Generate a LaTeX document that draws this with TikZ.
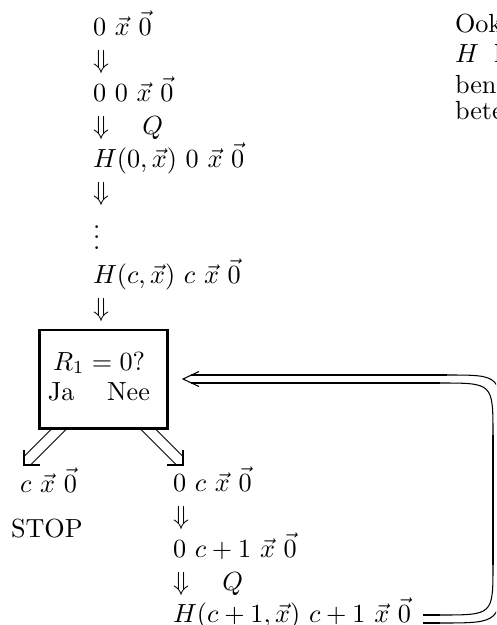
\documentclass[tikz,border=0pt]{standalone}
\begin{document}
\begin{tikzpicture}[x=0.3817pt,y=-0.3817pt,
  txt/.style={anchor=base west, inner sep=0pt, outer sep=0pt},
  thickline/.style={line width=1.1pt, line cap=butt},
  thinline/.style={line width=0.4pt},
  boxstyle/.style={draw, line width=1.1pt, inner sep=0pt, minimum width=48.86pt, minimum height=37.6pt}]
\useasboundingbox (0,0) rectangle (496,625);
\clip (0,0) rectangle (496,625);
% left column
\node[txt] (t1) at (93,35) {$0\ \vec{x}\ \vec{0}$};
\node[txt] (a1) at (93,68) {$\Downarrow$};
\node[txt] (t2) at (93,101) {$0\ 0\ \vec{x}\ \vec{0}$};
\node[txt] (a2) at (93,134) {$\Downarrow\quad Q$};
\node[txt] (t3) at (93,167) {$H(0,\vec{x})\ 0\ \vec{x}\ \vec{0}$};
\node[txt] (a3) at (93,200) {$\Downarrow$};
\node[txt] (dots) at (93,249) {$\vdots$};
\node[txt] (t4) at (93,283) {$H(c,\vec{x})\ c\ \vec{x}\ \vec{0}$};
\node[txt] (a4) at (93,316) {$\Downarrow$};
% test box
\node[boxstyle] (box) at (103.5,379.25) {};
\node[txt] (q) at (53,370) {$R_1=0?$};
\node[txt] (ja) at (48,400) {Ja};
\node[txt] (nee) at (107,400) {Nee};
% results
\node[txt] (stopval) at (20,492) {$c\ \vec{x}\ \vec{0}$};
\node[txt] (stop) at (11,537) {STOP};
\node[txt] (r1) at (173,491) {$0\ c\ \vec{x}\ \vec{0}$};
\node[txt] (r2) at (173,524) {$\Downarrow$};
\node[txt] (r3) at (173,557) {$0\ c+1\ \vec{x}\ \vec{0}$};
\node[txt] (r4) at (173,590) {$\Downarrow\quad Q$};
\node[txt] (r5) at (173,622) {$H(c+1,\vec{x})\ c+1\ \vec{x}\ \vec{0}$};
% clipped paragraph at right
\node[txt] (n1) at (455,32) {Ook};
\node[txt] (n2) at (455,63) {$H$\hspace{5.8pt}l};
\node[txt] (n3) at (455,93) {ben};
\node[txt] (n4) at (455,119) {bete};
% left diagonal double arrow (Ja)
\coordinate (jaA) at (52,428.5);
\coordinate (jaB) at (67,428.5);
\coordinate (jaTip) at (24,465);
\draw[thinline] (jaA) -- (25,455.5);
\draw[thinline] (jaB) -- (30,465.5);
\draw[thickline, line join=miter] (24,450) -- (jaTip) -- (40,465);
% right diagonal double arrow (Nee)
\coordinate (neeA) at (140,428.5);
\coordinate (neeB) at (155,428.5);
\coordinate (neeTip) at (183,465);
\draw[thinline] (neeA) -- (177,465.5);
\draw[thinline] (neeB) -- (182,455.5);
\draw[thickline, line join=miter] (167,465) -- (neeTip) -- (183,450);
% return double arrow
\coordinate (retTip) at (183,379);
\draw[thinline] (199,371.5) -- (retTip) -- (199,386.5);
% outer line
\draw[thickline] (423,623) -- (440,623);
\draw[thinline] (440,623) .. controls (501,623) .. (501,565);
\draw[thickline] (501,565) -- (501,430);
\draw[thinline] (501,430) .. controls (501,375) .. (447,375);
\draw[thickline] (447,375) -- (191,375);
% inner line
\draw[thickline] (423,615) -- (440,615);
\draw[thinline] (440,615) .. controls (493,615) .. (493,565);
\draw[thickline] (493,565) -- (493,435);
\draw[thinline] (493,435) .. controls (493,383) .. (440,383);
\draw[thickline] (440,383) -- (191,383);
\end{tikzpicture}
\end{document}
